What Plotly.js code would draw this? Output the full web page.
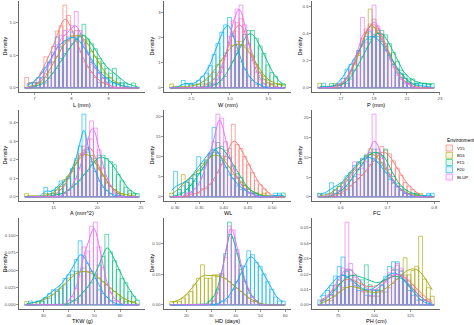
<!DOCTYPE html>
<html><head><meta charset="utf-8">
<script src="https://cdn.plot.ly/plotly-3.0.1.min.js"></script>
<style>html,body{margin:0;padding:0;background:#fff}#chart{width:474px;height:325px}</style>
</head><body><div id="chart"></div><script>
const environments = ['V15','B16','F15','F20','BLUP'];
const envColors = ['#F8766D','#A3A500','#00BF7D','#00B0F6','#E76BF3'];
const traits = ['L (mm)','W (mm)','P (mm)','A (mm^2)','WL','FC','TKW (g)','HD (days)','PH (cm)'];
// histogram bins (30 per trait): centre of first bin, bin width
const binStart = [6.79, 2.245, 15.72, 11.92, 0.2926, 0.5552, 23.55, 14.08, 62.34];
const binWidth = [0.1033, 0.05, 0.235, 0.437, 0.00795, 0.0083, 1.49, 1.557, 2.677];
// bin counts, rows in environment order V15, B16, F15, F20, BLUP
const countsL = [
 [2,0,1,1,3,6,5,8,11,12,16,14,10,9,7,5,4,3,2,1,1,1,0,0,0,0,0,0,0,0],
 [0,0,1,0,1,2,3,5,6,8,9,9,10,11,10,10,9,7,6,5,3,2,2,1,1,0,0,0,0,0],
 [0,0,0,1,0,1,2,3,4,6,7,8,9,10,11,13,10,9,8,6,5,4,3,4,2,1,1,0,1,0],
 [0,1,1,2,2,4,5,7,10,8,9,10,11,10,10,8,7,5,4,3,2,2,1,1,0,1,0,0,0,0],
 [0,0,0,1,2,3,5,7,9,11,12,10,13,16,12,9,7,5,4,3,2,1,0,0,0,0,0,0,0,0]];
const countsW = [
 [0,0,0,0,0,0,0,0,0,1,1,2,3,5,8,11,14,16,17,14,11,8,5,3,2,1,1,0,0,0],
 [1,0,0,0,0,1,0,1,1,2,3,4,6,7,9,11,11,12,12,11,10,8,6,4,3,2,1,1,1,1],
 [0,0,0,0,0,0,0,0,0,0,1,0,1,2,3,5,7,9,11,14,15,15,13,11,9,6,4,3,1,1],
 [0,0,0,2,1,1,1,2,3,4,6,9,12,15,17,19,14,10,7,5,3,2,1,1,0,0,0,0,0,0],
 [0,0,0,0,0,0,0,0,0,0,0,1,2,4,8,13,17,20,21,16,11,7,4,2,1,0,0,0,0,0]];
const countsP = [
 [0,0,0,0,0,0,1,2,3,5,7,10,12,13,14,12,11,9,7,5,3,2,1,1,0,0,0,0,0,0],
 [1,0,0,0,1,0,1,2,3,5,7,9,12,17,13,12,10,9,7,5,4,3,2,1,1,0,0,0,0,0],
 [0,0,0,1,0,0,1,1,2,4,5,7,9,11,12,13,13,12,10,8,6,4,3,2,2,1,1,1,1,1],
 [0,1,0,0,0,1,2,4,5,6,8,10,11,12,11,11,10,8,7,5,4,3,2,1,0,1,0,1,0,0],
 [0,0,0,0,0,1,1,2,4,6,9,17,11,14,20,15,12,9,7,5,3,2,1,1,0,0,0,0,0,0]];
const countsA = [
 [0,0,0,0,0,0,0,0,1,2,3,5,7,10,12,14,13,16,10,8,6,4,3,2,1,0,0,0,0,0],
 [1,0,0,0,0,1,0,1,2,3,5,6,8,10,12,13,13,12,10,8,6,4,3,2,1,1,0,1,0,0],
 [0,0,0,0,0,0,0,1,0,1,1,2,3,4,5,7,8,10,12,13,13,12,11,10,7,5,3,2,1,1],
 [0,0,0,0,0,3,1,2,3,5,4,6,9,12,16,26,15,11,8,5,3,2,1,0,1,0,0,0,0,0],
 [0,0,0,0,0,0,0,0,0,0,1,2,3,5,8,12,16,21,19,13,8,5,3,1,0,0,0,0,0,0]];
const countsWL = [
 [0,0,0,0,0,1,0,1,2,2,3,4,6,8,10,12,18,13,12,10,8,6,4,3,2,1,0,0,0,0],
 [1,0,2,6,4,5,6,7,9,10,11,12,12,11,10,8,6,5,4,3,2,1,1,0,1,0,0,0,0,0],
 [0,0,1,0,2,3,4,6,7,9,11,12,14,13,12,10,8,6,5,3,2,1,1,0,0,0,0,0,0,1],
 [0,7,2,3,4,5,6,11,8,10,12,19,12,10,8,6,5,3,2,2,1,1,0,0,0,0,0,1,1,0],
 [0,0,0,0,1,1,2,3,5,8,11,14,21,20,14,10,7,5,3,2,1,1,0,0,0,0,0,0,0,0]];
const countsFC = [
 [0,0,0,0,0,1,1,2,3,4,5,6,7,9,10,12,14,13,12,10,8,6,4,3,2,1,0,0,0,0],
 [1,0,0,1,2,3,4,5,7,8,10,11,12,14,13,12,10,8,6,4,3,2,1,1,0,0,1,0,0,0],
 [0,0,0,0,1,1,2,3,5,6,8,10,12,13,14,13,12,14,8,6,4,3,2,1,1,1,0,0,0,0],
 [1,0,1,4,2,3,4,6,7,9,10,11,12,12,11,10,9,7,5,4,3,2,1,0,0,0,0,0,1,1],
 [0,0,0,1,0,2,3,5,6,11,7,9,11,14,26,15,12,9,7,5,3,2,1,1,0,0,0,0,0,0]];
const countsTKW = [
 [0,0,0,0,0,0,0,0,0,0,0,0,0,0,0,0,0,0,0,0,0,0,0,0,0,0,0,0,0,0],
 [1,0,0,1,1,2,2,3,4,5,6,8,9,10,10,11,10,10,9,8,7,6,5,4,3,2,1,1,1,0],
 [0,0,0,0,0,0,0,0,0,0,0,0,1,1,2,3,4,5,7,9,11,16,12,10,8,6,5,3,2,1],
 [0,1,0,1,1,2,3,4,4,5,7,8,9,12,17,13,11,9,7,4,3,2,1,0,0,0,0,0,0,0],
 [0,0,0,0,0,0,0,0,0,0,0,1,2,4,7,14,13,19,20,14,9,5,3,1,1,0,0,0,0,0]];
const countsHD = [
 [0,0,0,0,0,0,0,0,0,0,0,0,0,0,0,0,0,0,0,0,0,0,0,0,0,0,0,0,0,0],
 [1,1,1,2,3,4,6,8,12,8,8,9,9,9,8,7,6,5,4,3,2,1,1,0,0,0,0,0,0,0],
 [0,0,0,0,0,0,0,0,0,0,1,2,4,8,13,21,17,13,9,6,3,2,1,0,0,0,0,0,0,0],
 [0,0,0,0,0,0,0,0,0,0,0,0,0,1,1,2,4,6,8,10,14,13,11,10,8,6,4,2,1,1],
 [0,0,0,0,0,0,0,0,0,0,0,1,3,8,12,20,19,14,10,6,4,2,1,0,0,0,0,0,0,0]];
const countsPH = [
 [0,1,1,2,4,5,6,7,6,5,4,4,3,3,3,3,4,5,6,7,8,7,6,5,4,3,2,1,1,0],
 [0,0,0,1,2,3,4,6,6,5,4,3,3,2,2,2,3,3,4,5,6,7,11,7,8,9,16,6,4,2],
 [0,1,0,2,3,4,6,7,7,6,5,5,8,4,3,3,4,5,6,7,7,6,5,4,3,2,1,1,0,0],
 [1,2,3,4,6,8,10,7,5,4,3,3,2,2,3,3,4,6,8,9,9,7,5,3,2,1,0,0,0,0],
 [0,0,1,2,3,4,8,18,9,6,4,3,3,2,2,3,3,5,7,8,9,8,6,4,3,2,1,1,0,0]];
const allCounts = [countsL,countsW,countsP,countsA,countsWL,countsFC,countsTKW,countsHD,countsPH];
// tick values / labels
const xTickVals = [[7,8,9],[2.5,3.0,3.5],[17,19,21,23],[15,20,25],[0.30,0.35,0.40,0.45,0.50],[0.6,0.7,0.8],[30,40,50,60],[20,30,40,50,60],[75,100,125]];
const xTickText = [['7','8','9'],['2.5','3.0','3.5'],['17','19','21','23'],['15','20','25'],['0.30','0.35','0.40','0.45','0.50'],['0.6','0.7','0.8'],['30','40','50','60'],['20','30','40','50','60'],['75','100','125']];
const yTickVals = [[0,0.5,1.0],[0,1,2,3],[0,0.2,0.4,0.6],[0,0.1,0.2,0.3,0.4],[0,5,10,15,20],[0,5,10,15,20],[0,0.025,0.05,0.075,0.1,0.125],[0,0.05,0.1],[0,0.01,0.02,0.03,0.04,0.05]];
const yTickText = [['0.0','0.5','1.0'],['0','1','2','3'],['0.0','0.2','0.4','0.6'],['0.0','0.1','0.2','0.3','0.4'],['0','5','10','15','20'],['0','5','10','15','20'],['0.000','0.025','0.050','0.075','0.100','0.125'],['0.00','0.05','0.10'],['0.00','0.01','0.02','0.03','0.04','0.05']];

// ---- layout geometry (pixels) ----
const W = 474, H = 325;
const colX = [[19,145],[164,291],[312,440]];
const rowY = [[1,92],[110,201],[218,309]];
const yTitleX = [4,151,299];
const xTitleY = [104.5,212.5,320.5];
const FONT = 'Liberation Sans, Arial, sans-serif';

function rgba(hex,a){const n=parseInt(hex.slice(1),16);return `rgba(${n>>16&255},${n>>8&255},${n&255},${a})`;}
function px2x(p){return p/W;} function px2y(p){return 1-p/H;}

// Gaussian kernel density (bw.nrd0) from binned counts
function kde(centers, counts, xs){
  let n=0,s=0; counts.forEach((c,i)=>{n+=c;s+=c*centers[i];});
  const m=s/n; let v=0; counts.forEach((c,i)=>{v+=c*(centers[i]-m)**2;}); const sd=Math.sqrt(v/(n-1));
  function q(p){let cum=0;const t=p*n;for(let i=0;i<counts.length;i++){cum+=counts[i];if(cum>=t)return centers[i];}return centers[centers.length-1];}
  const iqr=q(0.75)-q(0.25); let lo=Math.min(sd, iqr>0?iqr/1.34:sd);
  const bw=0.9*lo*Math.pow(n,-0.2);
  return xs.map(x=>{let d=0;counts.forEach((c,i)=>{if(c){const z=(x-centers[i])/bw;d+=c*Math.exp(-0.5*z*z);}});return d/(n*bw*Math.sqrt(2*Math.PI));});
}

const layout={
  width:W,height:H,margin:{l:0,r:0,t:0,b:0},paper_bgcolor:'#fff',plot_bgcolor:'rgba(0,0,0,0)',
  showlegend:false,barmode:'overlay',bargap:0,font:{family:FONT,size:5,color:'#4D4D4D'},
  annotations:[],shapes:[]
};
const barTraces=[], lineTraces=[];
for(let p=0;p<9;p++){
  const r=Math.floor(p/3), c=p%3;
  const xa = p?'x'+(p+1):'x', ya = p?'y'+(p+1):'y';
  const centers = Array.from({length:30},(_,i)=>binStart[p]+i*binWidth[p]);
  const lo=centers[0], hi=centers[29];
  const xs = Array.from({length:160},(_,i)=>lo+(hi-lo)*i/159);
  let ymax=0;
  allCounts[p].forEach((cnt,e)=>{
    const n=cnt.reduce((a,b)=>a+b,0); if(!n) return;
    const dens=cnt.map(k=>k/(n*binWidth[p]));
    const curve=kde(centers,cnt,xs);
    ymax=Math.max(ymax,...dens,...curve);
    barTraces.push({type:'bar',x:centers,y:dens,width:binWidth[p],xaxis:xa,yaxis:ya,
      marker:{color:rgba(envColors[e],0.025),line:{color:envColors[e],width:0.6}},hoverinfo:'skip'});
    lineTraces.push({type:'scatter',mode:'lines',x:xs,y:curve,xaxis:xa,yaxis:ya,
      line:{color:envColors[e],width:0.9},hoverinfo:'skip'});
  });
  const span=(hi-lo)+binWidth[p];
  const axCommon={showline:true,linecolor:'#000',linewidth:0.6,ticks:'outside',ticklen:2,tickwidth:0.5,tickcolor:'#333',
    showgrid:false,zeroline:false,tickfont:{family:FONT,size:4.3,color:'#4D4D4D'},fixedrange:true};
  layout['xaxis'+(p?p+1:'')]=Object.assign({},axCommon,{domain:[px2x(colX[c][0]),px2x(colX[c][1])],anchor:ya,
    range:[lo-binWidth[p]/2-0.05*span, hi+binWidth[p]/2+0.05*span],tickmode:'array',tickvals:xTickVals[p],ticktext:xTickText[p]});
  layout['yaxis'+(p?p+1:'')]=Object.assign({},axCommon,{domain:[px2y(rowY[r][1]),px2y(rowY[r][0])],anchor:xa,
    range:[-0.05*ymax,1.05*ymax],tickmode:'array',tickvals:yTickVals[p],ticktext:yTickText[p]});
  layout.annotations.push({text:traits[p],xref:'paper',yref:'paper',x:px2x((colX[c][0]+colX[c][1])/2),y:px2y(xTitleY[r]),
    showarrow:false,font:{family:FONT,size:5.6,color:'#000'},xanchor:'center',yanchor:'middle'});
  layout.annotations.push({text:'Density',xref:'paper',yref:'paper',x:px2x(yTitleX[c]),y:px2y((rowY[r][0]+rowY[r][1])/2),
    textangle:-90,showarrow:false,font:{family:FONT,size:5.6,color:'#000'},xanchor:'center',yanchor:'middle'});
}
// manual legend
layout.annotations.push({text:'Environment',xref:'paper',yref:'paper',x:px2x(445),y:px2y(141),showarrow:false,
  xanchor:'left',yanchor:'middle',font:{family:FONT,size:4.9,color:'#000'}});
const keyY=[148,155.3,162.5,169.7,177];
environments.forEach((env,e)=>{
  layout.shapes.push({type:'rect',xref:'paper',yref:'paper',x0:px2x(446),x1:px2x(452.5),y0:px2y(keyY[e]-3),y1:px2y(keyY[e]+3),
    line:{color:envColors[e],width:0.6},fillcolor:rgba(envColors[e],0.12)});
  layout.annotations.push({text:env,xref:'paper',yref:'paper',x:px2x(455),y:px2y(keyY[e]),showarrow:false,
    xanchor:'left',yanchor:'middle',font:{family:FONT,size:4.3,color:'#000'}});
});
Plotly.newPlot('chart',barTraces.concat(lineTraces),layout,{staticPlot:true,displayModeBar:false});
</script></body></html>
